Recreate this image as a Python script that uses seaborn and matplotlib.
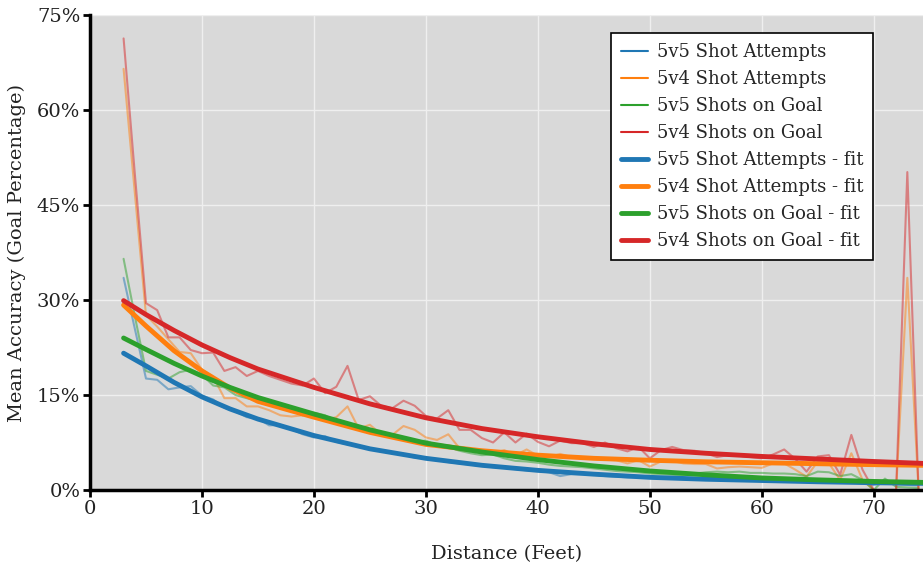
import matplotlib
matplotlib.use("Agg")
import matplotlib.pyplot as plt
import numpy as np
import pandas as pd
import seaborn as sns
from matplotlib.ticker import FuncFormatter, MultipleLocator

# raw mean accuracy per distance (percent), distances 3..74 ft
DISTANCE = list(range(3, 75))

SA_5V5 = [33.5, 25.5, 17.6, 17.4, 15.9, 16.2, 16.4, 14.9, 14.3, 13.0,
          12.4, 11.5, 11.3, 10.2, 10.3, 9.6, 8.8, 8.3, 8.5, 7.6,
          7.2, 7.0, 6.6, 6.1, 5.9, 5.6, 5.1, 5.0, 4.8, 4.4,
          4.2, 4.0, 3.8, 3.6, 3.5, 3.3, 3.1, 3.0, 2.8, 2.2,
          2.5, 2.5, 2.4, 2.2, 2.1, 2.0, 2.0, 1.9, 1.8, 1.8,
          1.7, 1.7, 1.6, 1.6, 1.5, 1.5, 1.5, 1.4, 1.4, 1.4,
          1.3, 1.3, 1.3, 1.2, 1.5, 1.2, 1.0, 0.8, 1.2, 0.9,
          0.8, 0.7]

SA_5V4 = [66.5, 47.0, 27.6, 25.8, 23.8, 21.8, 21.6, 19.0, 17.9, 14.5,
          14.5, 13.2, 13.2, 12.6, 11.8, 11.6, 11.8, 12.0, 11.1, 11.5,
          13.2, 9.7, 10.3, 8.8, 8.7, 10.1, 9.5, 8.3, 7.9, 8.8,
          6.6, 6.4, 6.0, 5.8, 6.3, 5.5, 6.4, 5.4, 5.2, 5.7,
          5.2, 5.2, 4.9, 4.8, 4.7, 4.2, 4.7, 3.7, 4.5, 4.6,
          4.2, 4.1, 4.1, 3.4, 3.6, 3.7, 3.6, 3.5, 4.2, 4.2,
          3.2, 2.1, 4.5, 4.2, 1.6, 5.8, 1.6, 0.0, 0.0, 0.0,
          33.5, 0.0]

SOG_5V5 = [36.5, 27.5, 18.8, 18.2, 17.6, 18.6, 19.0, 18.2, 16.5, 16.2,
           15.0, 14.5, 14.1, 13.8, 13.4, 12.6, 11.8, 12.2, 11.8, 10.8,
           10.2, 10.0, 9.3, 9.0, 8.6, 8.0, 7.6, 7.8, 7.0, 6.8,
           6.2, 5.8, 5.5, 5.6, 5.0, 4.6, 4.5, 4.3, 4.0, 3.8,
           3.7, 3.6, 3.4, 3.2, 3.0, 2.9, 2.8, 2.6, 2.5, 2.4,
           2.3, 2.6, 2.8, 2.9, 2.8, 2.9, 2.7, 2.7, 2.6, 2.6,
           2.5, 2.2, 2.9, 2.8, 2.2, 2.5, 1.6, 0.0, 1.8, 0.5,
           0.4, 0.3]

SOG_5V4 = [71.3, 50.0, 29.5, 28.4, 24.1, 24.1, 22.1, 21.6, 21.7, 18.8,
           19.4, 18.0, 18.8, 18.0, 17.4, 16.8, 16.5, 17.6, 15.3, 16.3,
           19.6, 14.2, 14.8, 13.3, 12.9, 14.1, 13.3, 11.7, 11.3, 12.6,
           9.5, 9.5, 8.2, 7.5, 9.1, 7.5, 8.9, 7.6, 6.9, 7.8,
           7.4, 7.4, 6.8, 7.5, 6.6, 6.1, 6.8, 5.0, 6.3, 6.8,
           6.3, 6.2, 5.8, 5.2, 5.5, 5.4, 5.2, 5.0, 5.6, 6.4,
           4.9, 2.9, 5.3, 5.5, 2.4, 8.7, 3.2, 0.0, 0.0, 0.0,
           50.2, 0.0]

# fitted curves, read at a few distances
FIT_X = [3, 5, 7.5, 10, 12.5, 15, 20, 25, 30, 35, 40, 45, 50, 55, 60, 65, 70, 74.4]
FIT_SA_5V5 = [21.6, 19.6, 17.0, 14.7, 12.8, 11.2, 8.6, 6.5, 5.0, 3.9,
              3.1, 2.5, 2.0, 1.7, 1.5, 1.3, 1.15, 1.05]
FIT_SA_5V4 = [29.2, 25.9, 22.0, 18.8, 16.1, 14.0, 11.5, 9.1, 7.2, 6.2,
              5.5, 5.0, 4.7, 4.45, 4.3, 4.15, 4.0, 3.9]
FIT_SOG_5V5 = [24.0, 22.2, 20.0, 18.0, 16.2, 14.6, 12.0, 9.5, 7.4, 6.0,
               4.8, 3.8, 3.0, 2.4, 1.9, 1.6, 1.35, 1.2]
FIT_SOG_5V4 = [29.9, 27.7, 25.2, 22.9, 20.9, 19.1, 16.2, 13.6, 11.4, 9.7,
               8.4, 7.3, 6.4, 5.8, 5.3, 4.9, 4.5, 4.2]

LABELS = ["5v5 Shot Attempts", "5v4 Shot Attempts",
          "5v5 Shots on Goal", "5v4 Shots on Goal"]
COLORS = ["#1f77b4", "#ff7f0e", "#2ca02c", "#d62728"]


def main():
    sns.set_theme(style="darkgrid", rc={
        "axes.facecolor": "#d9d9d9",
        "grid.color": "#efefef",
        "grid.linewidth": 1.0,
    })
    plt.rcParams['font.family'] = ['DejaVu Serif']

    fig = plt.figure(figsize=(9.23, 5.71), dpi=100)
    ax = fig.add_axes([90 / 923, 1 - 490 / 571, 1 - 90 / 923, 475 / 571])

    raw = [SA_5V5, SA_5V4, SOG_5V5, SOG_5V4]
    fits = [FIT_SA_5V5, FIT_SA_5V4, FIT_SOG_5V5, FIT_SOG_5V4]

    for vals, label, color in zip(raw, LABELS, COLORS):
        df = pd.DataFrame({"distance": DISTANCE, "accuracy": vals})
        sns.lineplot(data=df, x="distance", y="accuracy", ax=ax,
                     color=color, alpha=0.5, linewidth=1.5, label=label)

    for vals, label, color in zip(fits, LABELS, COLORS):
        df = pd.DataFrame({"distance": FIT_X, "accuracy": vals})
        sns.lineplot(data=df, x="distance", y="accuracy", ax=ax,
                     color=color, linewidth=3.5, label=label + " - fit")

    ax.set_xlim(0, 74.4)
    ax.set_ylim(0, 75)
    ax.xaxis.set_major_locator(MultipleLocator(10))
    ax.yaxis.set_major_locator(MultipleLocator(15))
    ax.yaxis.set_major_formatter(FuncFormatter(lambda v, p: f"{v:.0f}%"))

    for side in ["top", "right"]:
        ax.spines[side].set_visible(False)
    for side in ["left", "bottom"]:
        ax.spines[side].set_visible(True)
        ax.spines[side].set_color("black")
        ax.spines[side].set_linewidth(2.5)
    ax.tick_params(axis="both", which="major", direction="out", length=5,
                   width=2, color="black", labelsize=14, labelcolor="#222222",
                   bottom=True, left=True, pad=2)

    ax.set_xlabel("Distance (Feet)", fontsize=14, color="#222222", labelpad=20)
    ax.set_ylabel("Mean Accuracy (Goal Percentage)", fontsize=14,
                  color="#222222", labelpad=8)

    leg = ax.legend(loc="upper right", bbox_to_anchor=((873 - 90) / 833, (490 - 33) / 475),
                    bbox_transform=ax.transAxes, frameon=True, fancybox=False,
                    fontsize=13, handlelength=1.5, handletextpad=0.45,
                    labelspacing=0.5, borderpad=0.55, borderaxespad=0)
    leg.get_frame().set_edgecolor("black")
    leg.get_frame().set_facecolor("white")
    leg.get_frame().set_alpha(1.0)
    leg.get_frame().set_linewidth(1.2)
    for h, lw in zip(leg.get_lines(), [1.5] * 4 + [3.5] * 4):
        h.set_linewidth(lw)
        h.set_alpha(1.0)

    plt.savefig("out.png", dpi=100)
    plt.close()


if __name__ == '__main__':
    main()
